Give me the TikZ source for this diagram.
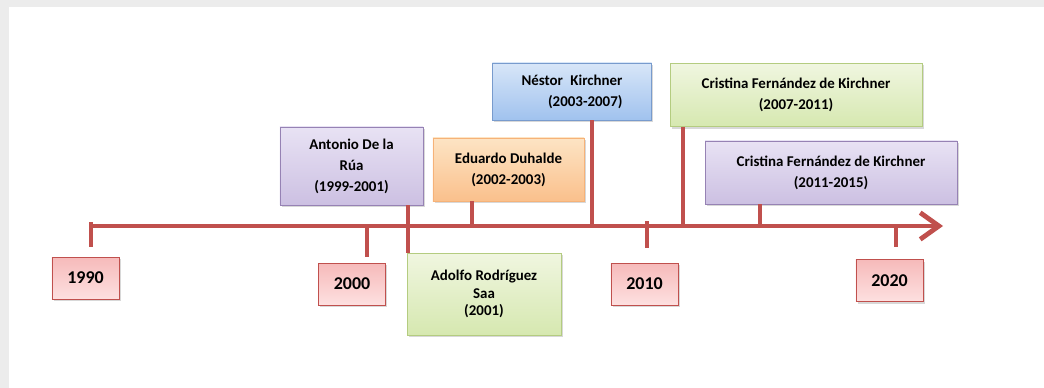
\documentclass[tikz,border=0pt]{standalone}
\usepackage{fontspec}
\setmainfont{Carlito}
\usetikzlibrary{arrows.meta,shadows}
\definecolor{axisred}{RGB}{192,80,77}
\definecolor{frameg}{RGB}{236,236,236}
\tikzset{
  evbox/.style={draw, line width=0.6pt, align=center, inner sep=2pt,
    font=\bfseries\fontsize{11.2}{15.8}\selectfont,
    drop shadow={shadow xshift=1.2pt, shadow yshift=-1.5pt, opacity=0.3}},
  purplebox/.style={evbox, draw={rgb,255:red,150;green,130;blue,180},
    top color={rgb,255:red,232;green,226;blue,244}, bottom color={rgb,255:red,204;green,192;blue,226}},
  orangebox/.style={evbox, draw={rgb,255:red,246;green,178;blue,120},
    top color={rgb,255:red,253;green,228;blue,196}, bottom color={rgb,255:red,250;green,192;blue,140}},
  bluebox/.style={evbox, draw={rgb,255:red,120;green,155;blue,205},
    top color={rgb,255:red,216;green,230;blue,248}, bottom color={rgb,255:red,160;green,194;blue,238}},
  greenbox/.style={evbox, draw={rgb,255:red,180;green,204;blue,128},
    top color={rgb,255:red,240;green,246;blue,224}, bottom color={rgb,255:red,214;green,232;blue,176}},
  yearbox/.style={draw=axisred, line width=0.6pt, minimum width=50.3pt, minimum height=31.5pt,
    top color={rgb,255:red,246;green,186;blue,186}, bottom color={rgb,255:red,253;green,224;blue,224},
    font=\bfseries\fontsize{13.5}{15}\selectfont,
    drop shadow={shadow xshift=1.2pt, shadow yshift=-1.5pt, opacity=0.3}},
  stem/.style={draw=axisred, line width=3.6pt},
}
\begin{document}
\begin{tikzpicture}[x=0.75pt,y=0.75pt,yscale=-1,xscale=1]
\useasboundingbox (0,0) rectangle (1044,388);
% frame
\fill[white] (0,0) rectangle (1044,388);
\fill[frameg] (0,0) rectangle (1044,7);
\fill[frameg] (0,0) rectangle (9,388);
% axis points
\coordinate (a0) at (90,226);
\coordinate (a1) at (943,226);
\coordinate (t1) at (408,226);
\coordinate (t2) at (472,226);
\coordinate (t3) at (592,226);
\coordinate (t4) at (683,226);
\coordinate (t5) at (760,226);
% event boxes
\node[purplebox, minimum width=107.3pt, minimum height=58.5pt] (ant) at (351.5,166) {Antonio De la\\Rúa\\(1999-2001)};
\node[orangebox, minimum width=113.3pt, minimum height=47.3pt] (edu) at (508.5,169.5) {Eduardo Duhalde\\(2002-2003)};
\node[bluebox, minimum width=119.3pt, minimum height=42.8pt, align=right] (nes) at (572,91.5) {Néstor\enspace Kirchner\\(2003-2007)};
\node[greenbox, minimum width=189pt, minimum height=47.3pt] (cfka) at (796,95) {Cristina Fernández de Kirchner\\(2007-2011)};
\node[purplebox, minimum width=189pt, minimum height=47.3pt] (cfkb) at (831,172.5) {Cristina Fernández de Kirchner\\(2011-2015)};
\node[greenbox, minimum width=115.5pt, minimum height=61.5pt, font=\bfseries\fontsize{11.2}{13}\selectfont] (ado) at (484,294) {Adolfo Rodríguez\\Saa\\(2001)};
% year boxes
\node[yearbox] (y1990) at (85.5,278) {1990};
\node[yearbox] (y2000) at (352,284) {2000};
\node[yearbox] (y2010) at (644.5,284) {2010};
\node[yearbox] (y2020) at (889.5,280.5) {2020};
% stems
\draw[stem] (ant.south -| t1) -- (ado.north -| t1);
\draw[stem] (edu.south -| t2) -- (t2);
\draw[stem] (nes.south -| t3) -- (t3);
\draw[stem] (cfka.south -| t4) -- (t4);
\draw[stem] (cfkb.south -| t5) -- (t5);
% year ticks
\draw[stem] (91,222) -- (91,247);
\draw[stem] (367,226) -- (367,257);
\draw[stem] (647,221) -- (647,248);
\draw[stem] (896,226) -- (896,247);
% axis
\draw[stem, -{Straight Barb[length=14pt,width=20pt]}] (a0) -- (a1);
\end{tikzpicture}
\end{document}
